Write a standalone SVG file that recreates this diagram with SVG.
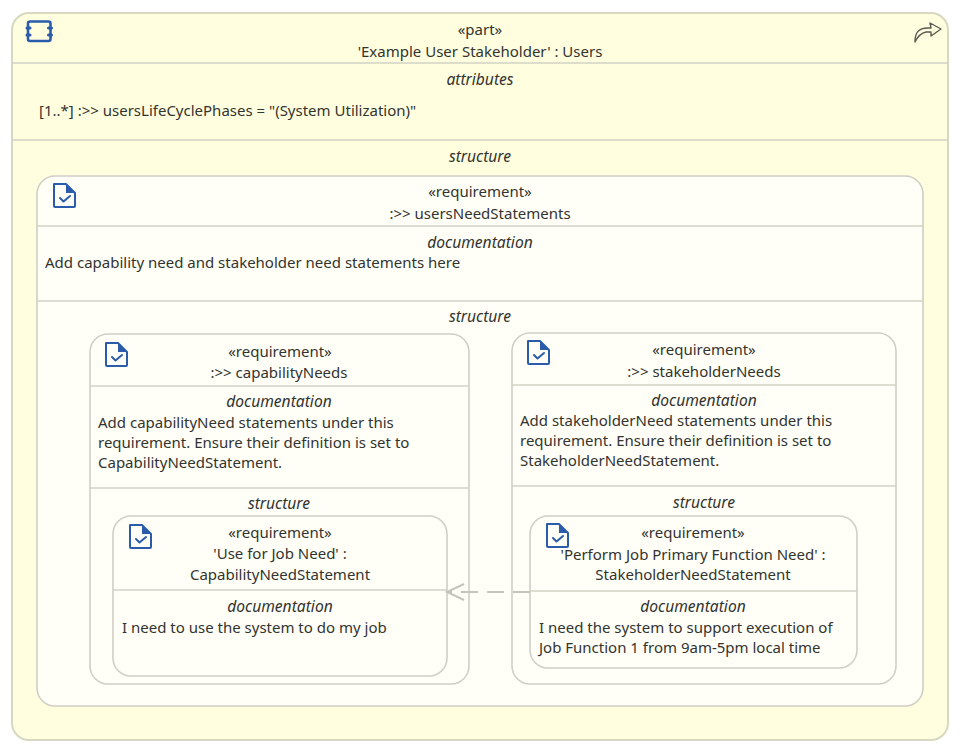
<svg xmlns="http://www.w3.org/2000/svg" width="960" height="752" viewBox="0 0 960 752">
<style>
text{font-family:"Noto Sans","Open Sans","Liberation Sans",sans-serif;font-size:15px;fill:#33332f}
.c{text-anchor:middle}
.i{font-style:italic;font-size:15.6px}
.box{stroke:#cfcfc6;stroke-width:1.6}
.part{fill:#ffffe0;stroke:#d8d8c0;stroke-width:2}
.req{fill:#fffff8}
.div{stroke:#d2d2c4;stroke-width:1.6;fill:none}
.ico{fill:none;stroke:#2b5cab;stroke-width:2;stroke-linejoin:round;stroke-linecap:round}
</style>
<defs>
<marker id="open" markerWidth="22" markerHeight="20" refX="19" refY="9" orient="auto" markerUnits="userSpaceOnUse">
<path d="M2 1 L19 9 L2 17" fill="none" stroke="#c4c4bc" stroke-width="2"/>
</marker>
<g id="reqIcon">
<path class="ico" d="M1 1 H13 L22 10 V23 Q22 24 21 24 H2 Q1 24 1 23 Z"/>
<path d="M13 1 L22 10 H13 Z" fill="#2b5cab"/>
<path class="ico" d="M7 15 L10.5 18.5 L17 13" stroke-width="1.6"/>
</g>
</defs>
<rect width="960" height="752" fill="#fff"/>

<g id="part-stakeholder">
<rect class="part" x="12" y="13" width="936" height="727" rx="17"/>
<path class="div" d="M12 63 H948 M12 140 H948"/>
<g class="ico">
<rect x="28" y="21.500" width="22.500" height="19.500" rx="2" style="stroke-width:2.6"/>
<path d="M27 28 h3 M27 35 h3 M48.500 28 h3 M48.500 35 h3" style="stroke-width:3"/>
</g>
<path d="M915 42 C915 33 918 28 928 28 L931 28 L930 23 L941 29 L931 36 L931 32 L926 32 C921 33 918 36 915 42 Z" fill="none" stroke="#5a5a54" stroke-width="1.4" stroke-linejoin="round"/>
<text class="c" x="480" y="35">«part»</text>
<text class="c" x="480" y="57">'Example User Stakeholder' : Users</text>
<text class="c i" x="480" y="85">attributes</text>
<text x="39" y="116">[1..*] :&gt;&gt; usersLifeCyclePhases = "(System Utilization)"</text>
<text class="c i" x="480" y="162">structure</text>
</g>

<g id="req-usersNeedStatements">
<rect class="req box" x="37" y="176" width="886" height="530" rx="18"/>
<path class="div" d="M37 226 H923 M37 301 H923"/>
<use href="#reqIcon" x="53" y="183"/>
<text class="c" x="480" y="197">«requirement»</text>
<text class="c" x="480" y="219">:&gt;&gt; usersNeedStatements</text>
<text class="c i" x="480" y="248">documentation</text>
<text x="45" y="268">Add capability need and stakeholder need statements here</text>
<text class="c i" x="480" y="322">structure</text>
</g>

<g id="req-capabilityNeeds">
<rect class="req box" x="90" y="334" width="379" height="350" rx="18"/>
<path class="div" d="M90 386 H469 M90 488 H469"/>
<use href="#reqIcon" x="105" y="342"/>
<text class="c" x="280" y="357">«requirement»</text>
<text class="c" x="279" y="378">:&gt;&gt; capabilityNeeds</text>
<text class="c i" x="279" y="407">documentation</text>
<text x="98" y="428">Add capabilityNeed statements under this</text>
<text x="98" y="448">requirement. Ensure their definition is set to</text>
<text x="98" y="468">CapabilityNeedStatement.</text>
<text class="c i" x="279" y="509">structure</text>
</g>

<g id="req-stakeholderNeeds">
<rect class="req box" x="512" y="333" width="384" height="351" rx="18"/>
<path class="div" d="M512 385 H896 M512 486 H896"/>
<use href="#reqIcon" x="527" y="340"/>
<text class="c" x="704" y="355">«requirement»</text>
<text class="c" x="704" y="377">:&gt;&gt; stakeholderNeeds</text>
<text class="c i" x="704" y="406">documentation</text>
<text x="520" y="426">Add stakeholderNeed statements under this</text>
<text x="520" y="446">requirement. Ensure their definition is set to</text>
<text x="520" y="466">StakeholderNeedStatement.</text>
<text class="c i" x="704" y="508">structure</text>
</g>

<g id="req-useForJobNeed">
<rect class="req box" x="113" y="516" width="334" height="160" rx="18"/>
<path class="div" d="M113 590 H447"/>
<use href="#reqIcon" x="129" y="524"/>
<text class="c" x="280" y="538">«requirement»</text>
<text class="c" x="280" y="559">'Use for Job Need' :</text>
<text class="c" x="280" y="580">CapabilityNeedStatement</text>
<text class="c i" x="280" y="612">documentation</text>
<text x="122" y="633">I need to use the system to do my job</text>
</g>

<g id="req-performJobPrimaryFunctionNeed">
<rect class="req box" x="530" y="516" width="327" height="152" rx="18"/>
<path class="div" d="M530 591 H857"/>
<use href="#reqIcon" x="546" y="523"/>
<text class="c" x="693" y="538">«requirement»</text>
<text class="c" x="693" y="560">'Perform Job Primary Function Need' :</text>
<text class="c" x="693" y="580">StakeholderNeedStatement</text>
<text class="c i" x="693" y="612">documentation</text>
<text x="539" y="633">I need the system to support execution of</text>
<text x="539" y="653">Job Function 1 from 9am-5pm local time</text>
</g>

<g id="connectors">
<path d="M530 592 H447" fill="none" stroke="#c4c4bc" stroke-width="2.2" stroke-dasharray="17 9" marker-end="url(#open)"/>
</g>
</svg>
